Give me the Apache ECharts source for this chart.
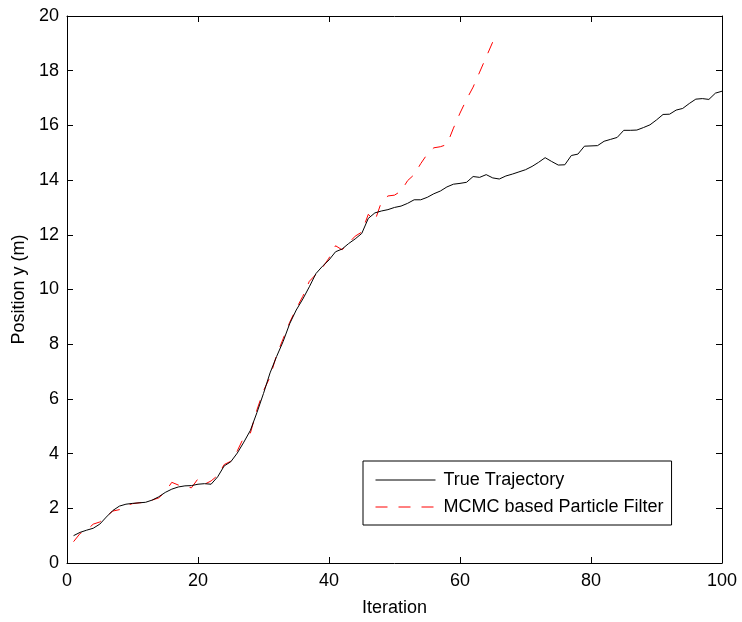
<!DOCTYPE html>
<html>
<head>
<meta charset="utf-8">
<script src="https://cdn.jsdelivr.net/npm/echarts@6/dist/echarts.min.js"></script>
<style>
html,body{margin:0;padding:0;background:#fff;}
#chart{width:742px;height:622px;}
</style>
</head>
<body>
<div id="chart"></div>
<script>
// Iterations 1..100 for the true trajectory
var trueTrajectory = [
  1.0, 1.12, 1.2, 1.27, 1.42, 1.68, 1.92, 2.08, 2.15, 2.18,
  2.2, 2.22, 2.3, 2.42, 2.58, 2.7, 2.78, 2.82, 2.83, 2.88,
  2.9, 2.88, 3.15, 3.55, 3.7, 4.02, 4.42, 4.85, 5.5, 6.2,
  6.95, 7.55, 8.1, 8.75, 9.25, 9.65, 10.1, 10.58, 10.85, 11.08,
  11.38, 11.48, 11.68, 11.85, 12.05, 12.6, 12.8, 12.87, 12.92, 13.0,
  13.05, 13.15, 13.28, 13.28, 13.37, 13.5, 13.6, 13.75, 13.85, 13.88,
  13.92, 14.13, 14.1, 14.2, 14.08, 14.04, 14.15, 14.22, 14.3, 14.38,
  14.5, 14.65, 14.82, 14.68, 14.55, 14.56, 14.9, 14.95, 15.24, 15.25,
  15.26, 15.42, 15.49, 15.56, 15.82, 15.82, 15.83, 15.92, 16.02, 16.2,
  16.4, 16.41, 16.56, 16.62, 16.8, 16.96, 16.98, 16.95, 17.18, 17.25
];
// Iterations 1..65 for the MCMC particle filter estimate
var pfEstimate = [
  0.78, 1.08, 1.2, 1.42, 1.5, 1.7, 1.9, 1.95, 2.1, 2.17,
  2.2, 2.22, 2.3, 2.38, 2.6, 2.95, 2.85, 2.8, 2.75, 3.08,
  2.88, 3.0, 3.2, 3.6, 3.72, 4.1, 4.6, 4.75, 5.6, 6.3,
  6.8, 7.6, 8.2, 8.8, 9.3, 9.75, 10.3, 10.55, 10.8, 11.15,
  11.6, 11.45, 11.7, 11.95, 12.1, 12.75, 12.5, 13.2, 13.42, 13.45,
  13.6, 13.98, 14.2, 14.6, 14.95, 15.18, 15.22, 15.3, 15.9, 16.45,
  16.95, 17.4, 17.95, 18.5, 19.05
];
var seriesNames = ['True Trajectory', 'MCMC based Particle Filter'];
var xTicks = [0, 20, 40, 60, 80, 100];
var yTicks = [0, 2, 4, 6, 8, 10, 12, 14, 16, 18, 20];

function toPairs(arr) {
  var out = [];
  for (var i = 0; i < arr.length; i++) out.push([i + 1, arr[i]]);
  return out;
}

var FONT = "'Liberation Sans', Arial, Helvetica, sans-serif";
var chart = echarts.init(document.getElementById('chart'), null, {renderer: 'canvas'});

function baseAxis(extra) {
  var a = {
    type: 'value',
    axisLine: {show: true, onZero: false, lineStyle: {color: '#000', width: 1}},
    axisTick: {show: true, inside: true, length: 6, lineStyle: {color: '#000', width: 1}},
    splitLine: {show: false},
    axisLabel: {show: false}
  };
  for (var k in extra) a[k] = extra[k];
  return a;
}

var option = {
  backgroundColor: '#fff',
  animation: false,
  textStyle: {fontFamily: FONT},
  grid: {left: 67, top: 16, width: 655, height: 551, containLabel: false},
  xAxis: [
    baseAxis({
      position: 'bottom', min: xTicks[0], max: xTicks[xTicks.length - 1], interval: 20,
      name: 'Iteration', nameLocation: 'middle', nameGap: 36,
      nameTextStyle: {fontSize: 18, color: '#000', fontFamily: FONT},
      axisLabel: {show: true, margin: 9, fontSize: 18, color: '#000', fontFamily: FONT}
    }),
    baseAxis({position: 'top', min: xTicks[0], max: xTicks[xTicks.length - 1], interval: 20})
  ],
  yAxis: [
    baseAxis({
      position: 'left', min: yTicks[0], max: yTicks[yTicks.length - 1], interval: 2,
      name: 'Position y (m)', nameLocation: 'middle', nameGap: 37, nameRotate: 90,
      nameTextStyle: {fontSize: 18, color: '#000', fontFamily: FONT},
      axisLabel: {show: true, margin: 8, fontSize: 18, color: '#000', fontFamily: FONT}
    }),
    baseAxis({position: 'right', min: yTicks[0], max: yTicks[yTicks.length - 1], interval: 2})
  ],
  legend: {
    data: seriesNames,
    orient: 'vertical',
    left: 363,
    top: 461,
    backgroundColor: '#fff',
    borderColor: '#000',
    borderWidth: 1,
    borderRadius: 0,
    padding: [10, 8, 9, 12],
    itemWidth: 60,
    itemHeight: 20,
    itemGap: 9,
    itemStyle: {opacity: 0},
    lineStyle: {width: 1},
    textStyle: {fontSize: 18, color: '#000', fontFamily: FONT, padding: [0, 0, 0, 3]}
  },
  series: [
    {
      name: seriesNames[0], type: 'line', xAxisIndex: 0, yAxisIndex: 0,
      data: toPairs(trueTrajectory), symbol: 'none', showSymbol: false,
      lineStyle: {color: '#000', width: 1, type: 'solid'},
      itemStyle: {color: '#000'}, z: 3
    },
    {
      name: seriesNames[1], type: 'line', xAxisIndex: 0, yAxisIndex: 0,
      data: toPairs(pfEstimate), symbol: 'none', showSymbol: false,
      lineStyle: {color: '#ff0000', width: 1, type: [12, 11]},
      itemStyle: {color: '#ff0000'}, z: 2
    }
  ]
};
chart.setOption(option);
</script>
</body>
</html>
